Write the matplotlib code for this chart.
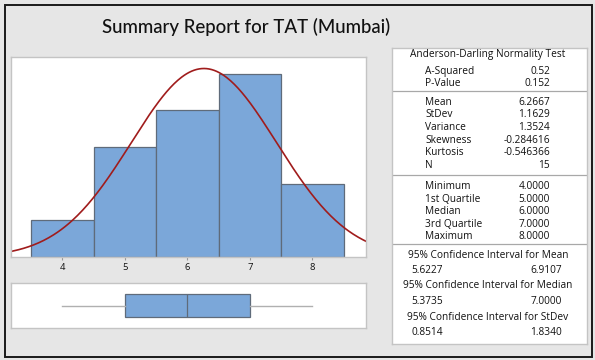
import numpy as np
import matplotlib
matplotlib.use("Agg")
import matplotlib.pyplot as plt
from matplotlib.patches import Rectangle

plt.rcParams['font.family'] = ['Open Sans', 'DejaVu Sans']

# data: TAT (Mumbai), integer values -> histogram counts per bin
bin_centers = [4, 5, 6, 7, 8]
counts = [1, 3, 4, 5, 2]
n_obs = 15
mean_val = 6.2667
sd_val = 1.1629

# five number summary for the box plot
q_min, q1, q_med, q3, q_max = 4.0, 5.0, 6.0, 7.0, 8.0

ad_labels = ["A-Squared", "P-Value"]
ad_values = ["0.52", "0.152"]
mom_labels = ["Mean", "StDev", "Variance", "Skewness", "Kurtosis", "N"]
mom_values = ["6.2667", "1.1629", "1.3524", "-0.284616", "-0.546366", "15"]
q_labels = ["Minimum", "1st Quartile", "Median", "3rd Quartile", "Maximum"]
q_values = ["4.0000", "5.0000", "6.0000", "7.0000", "8.0000"]
ci_titles = ["95% Confidence Interval for Mean",
             "95% Confidence Interval for Median",
             "95% Confidence Interval for StDev"]
ci_values = [("5.6227", "6.9107"), ("5.3735", "7.0000"), ("0.8514", "1.8340")]

W, H = 595, 360
bg = '#e6e6e6'
bar_col = '#7ba7d9'
bar_edge = '#5f6b7a'
frame_col = '#c4c4c4'

fig = plt.figure(figsize=(W / 100, H / 100), dpi=100, facecolor=bg)

def px_axes(x0, y0, x1, y1):
    # axes placed by pixel box (top-left origin)
    return fig.add_axes([x0 / W, 1 - y1 / H, (x1 - x0) / W, (y1 - y0) / H])

# outer frame
fig.patches.append(Rectangle((4.5 / W, 3.5 / H), (W - 8) / W, (H - 8) / H,
                             transform=fig.transFigure, fill=False,
                             edgecolor='#1a1a1a', linewidth=1.4))

fig.text(246 / W, 1 - 27 / H, "Summary Report for TAT (Mumbai)",
         ha='center', va='center', fontsize=13.4, color='#111111',
         family=['Lato', 'DejaVu Sans'], weight='medium')

# histogram with normal curve
ax = px_axes(11, 57, 366, 257)
ax.bar(bin_centers, counts, width=1.0, color=bar_col, edgecolor=bar_edge, linewidth=0.9)
xs = np.linspace(3.0, 9.0, 300)
pdf = n_obs * 1.0 / (sd_val * np.sqrt(2 * np.pi)) * np.exp(-0.5 * ((xs - mean_val) / sd_val) ** 2)
ax.plot(xs, pdf, color='#a01c1c', linewidth=1.2)
ax.set_xlim(3.18, 8.86)
ax.set_ylim(0, 5.46)
ax.set_yticks([])
ax.set_xticks(bin_centers)
ax.tick_params(axis='x', labelsize=6.8, length=2.5, color='#999999', pad=2, labelcolor='#111111')
for s in ax.spines.values():
    s.set_color(frame_col)
    s.set_linewidth(1.0)

# box plot
bx = px_axes(11, 283, 366, 328)
bx.bxp([{'whislo': q_min, 'q1': q1, 'med': q_med, 'q3': q3, 'whishi': q_max, 'fliers': []}],
       vert=False, widths=0.5, showcaps=False, patch_artist=True,
       boxprops=dict(facecolor=bar_col, edgecolor=bar_edge, linewidth=0.9),
       medianprops=dict(color=bar_edge, linewidth=0.9),
       whiskerprops=dict(color='#b0b0b0', linewidth=1.0))
bx.set_xlim(3.18, 8.86)
bx.set_ylim(0.5, 1.5)
bx.set_xticks([])
bx.set_yticks([])
for s in bx.spines.values():
    s.set_color(frame_col)
    s.set_linewidth(1.0)

# statistics panel, in pixel coordinates
px0, py0, px1, py1 = 392, 48, 587, 344
pn = px_axes(px0, py0, px1, py1)
pn.set_xlim(px0, px1)
pn.set_ylim(py1, py0)
pn.set_xticks([])
pn.set_yticks([])
for s in pn.spines.values():
    s.set_color(frame_col)
    s.set_linewidth(1.0)

fs = 7.3
tc = '#111111'
lab_x, val_x, mid_x = 425, 550, 488
pn.text(mid_x, 54.5, "Anderson-Darling Normality Test", ha='center', va='center', fontsize=fs, color=tc)

def block(labels, values, y_start, step=12.6):
    for i, (lab, val) in enumerate(zip(labels, values)):
        y = y_start + i * step
        pn.text(lab_x, y, lab, ha='left', va='center', fontsize=fs, color=tc)
        pn.text(val_x, y, val, ha='right', va='center', fontsize=fs, color=tc)

block(ad_labels, ad_values, 71)
pn.axhline(90.7, color='#a8a8a8', linewidth=0.9)
block(mom_labels, mom_values, 102.3)
pn.axhline(175, color='#a8a8a8', linewidth=0.9)
block(q_labels, q_values, 186.5)
pn.axhline(243.5, color='#a8a8a8', linewidth=0.9)
for i, (title, (lo, hi)) in enumerate(zip(ci_titles, ci_values)):
    y = 255 + i * 31
    pn.text(mid_x, y, title, ha='center', va='center', fontsize=fs, color=tc)
    pn.text(427.5, y + 15.5, lo, ha='center', va='center', fontsize=fs, color=tc)
    pn.text(546, y + 15.5, hi, ha='center', va='center', fontsize=fs, color=tc)

fig.savefig("out.png", dpi=100, facecolor=bg)
